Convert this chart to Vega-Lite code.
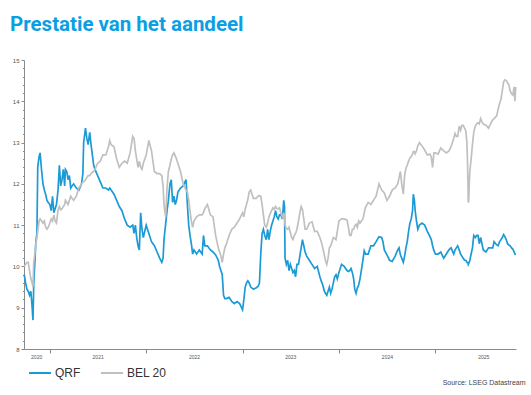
{
  "$schema": "https://vega.github.io/schema/vega-lite/v6.json",
  "width": 492,
  "height": 289,
  "autosize": {"type": "none"},
  "padding": {"left": 24, "top": 60, "right": 15, "bottom": 46},
  "background": "white",
  "title": {
    "text": "Prestatie van het aandeel",
    "anchor": "start",
    "frame": "group",
    "font": "Roboto",
    "fontSize": 20.5,
    "fontWeight": "bold",
    "color": "#0a9fe3",
    "dx": -14,
    "offset": 6,
    "baseline": "alphabetic"
  },
  "config": {
    "view": {"stroke": null},
    "axis": {"grid": false, "domainColor": "#8a8a8a", "tickColor": "#8a8a8a", "labelColor": "#555555", "labelFont": "Liberation Sans"}
  },
  "data": {
    "values": [
      {"date": "2020-09-26", "QRF": 9.8, "BEL 20": 10.0},
      {"date": "2020-10-01", "QRF": 9.6, "BEL 20": 10.05},
      {"date": "2020-10-06", "QRF": 9.45, "BEL 20": 10.1},
      {"date": "2020-10-11", "QRF": 9.4, "BEL 20": 10.1},
      {"date": "2020-10-16", "QRF": 9.3, "BEL 20": 9.9},
      {"date": "2020-10-21", "QRF": 9.4, "BEL 20": 9.7},
      {"date": "2020-10-26", "QRF": 9.0, "BEL 20": 9.6},
      {"date": "2020-10-29", "QRF": 8.7, "BEL 20": 9.5},
      {"date": "2020-11-01", "QRF": 9.6, "BEL 20": 10.1},
      {"date": "2020-11-06", "QRF": 10.2, "BEL 20": 10.35},
      {"date": "2020-11-09", "QRF": 10.6, "BEL 20": 10.55},
      {"date": "2020-11-13", "QRF": 10.8, "BEL 20": 10.7},
      {"date": "2020-11-16", "QRF": 12.4, "BEL 20": 10.85},
      {"date": "2020-11-21", "QRF": 12.65, "BEL 20": 11.1},
      {"date": "2020-11-25", "QRF": 12.75, "BEL 20": 11.15},
      {"date": "2020-12-01", "QRF": 12.3, "BEL 20": 11.1},
      {"date": "2020-12-06", "QRF": 12.0, "BEL 20": 11.05},
      {"date": "2020-12-11", "QRF": 11.85, "BEL 20": 11.1},
      {"date": "2020-12-16", "QRF": 11.75, "BEL 20": 10.95},
      {"date": "2020-12-21", "QRF": 11.6, "BEL 20": 10.9},
      {"date": "2020-12-26", "QRF": 11.55, "BEL 20": 10.95},
      {"date": "2021-01-01", "QRF": 11.5, "BEL 20": 11.05},
      {"date": "2021-01-06", "QRF": 11.35, "BEL 20": 11.15},
      {"date": "2021-01-11", "QRF": 11.7, "BEL 20": 11.1},
      {"date": "2021-01-16", "QRF": 11.3, "BEL 20": 11.25},
      {"date": "2021-01-21", "QRF": 11.4, "BEL 20": 11.1},
      {"date": "2021-01-26", "QRF": 11.5, "BEL 20": 11.05},
      {"date": "2021-02-01", "QRF": 11.85, "BEL 20": 11.37},
      {"date": "2021-02-06", "QRF": 12.45, "BEL 20": 11.45},
      {"date": "2021-02-11", "QRF": 11.95, "BEL 20": 11.37},
      {"date": "2021-02-16", "QRF": 12.1, "BEL 20": 11.4},
      {"date": "2021-02-21", "QRF": 12.35, "BEL 20": 11.45},
      {"date": "2021-02-26", "QRF": 11.95, "BEL 20": 11.5},
      {"date": "2021-03-01", "QRF": 12.35, "BEL 20": 11.6},
      {"date": "2021-03-06", "QRF": 12.3, "BEL 20": 11.55},
      {"date": "2021-03-11", "QRF": 12.1, "BEL 20": 11.5},
      {"date": "2021-03-16", "QRF": 12.2, "BEL 20": 11.6},
      {"date": "2021-03-21", "QRF": 11.9, "BEL 20": 11.7},
      {"date": "2021-03-26", "QRF": 11.95, "BEL 20": 11.65},
      {"date": "2021-04-01", "QRF": 12.0, "BEL 20": 11.6},
      {"date": "2021-04-11", "QRF": 11.9, "BEL 20": 11.7},
      {"date": "2021-04-21", "QRF": 11.85, "BEL 20": 11.9},
      {"date": "2021-05-01", "QRF": 12.0, "BEL 20": 12.0},
      {"date": "2021-05-06", "QRF": 12.25, "BEL 20": 12.05},
      {"date": "2021-05-09", "QRF": 13.0, "BEL 20": 12.05},
      {"date": "2021-05-16", "QRF": 13.35, "BEL 20": 12.1},
      {"date": "2021-05-21", "QRF": 13.1, "BEL 20": 12.15},
      {"date": "2021-05-26", "QRF": 12.95, "BEL 20": 12.2},
      {"date": "2021-06-01", "QRF": 13.25, "BEL 20": 12.2},
      {"date": "2021-06-06", "QRF": 12.95, "BEL 20": 12.25},
      {"date": "2021-06-11", "QRF": 12.7, "BEL 20": 12.28},
      {"date": "2021-06-16", "QRF": 12.45, "BEL 20": 12.3},
      {"date": "2021-06-21", "QRF": 12.35, "BEL 20": 12.35},
      {"date": "2021-07-01", "QRF": 12.2, "BEL 20": 12.5},
      {"date": "2021-07-11", "QRF": 12.05, "BEL 20": 12.55},
      {"date": "2021-07-21", "QRF": 11.9, "BEL 20": 12.7},
      {"date": "2021-08-01", "QRF": 11.9, "BEL 20": 12.7},
      {"date": "2021-08-11", "QRF": 11.85, "BEL 20": 12.9},
      {"date": "2021-08-16", "QRF": 11.9, "BEL 20": 13.05},
      {"date": "2021-08-21", "QRF": 11.85, "BEL 20": 12.95},
      {"date": "2021-09-01", "QRF": 11.75, "BEL 20": 12.9},
      {"date": "2021-09-11", "QRF": 11.6, "BEL 20": 12.6},
      {"date": "2021-09-21", "QRF": 11.45, "BEL 20": 12.4},
      {"date": "2021-10-01", "QRF": 11.35, "BEL 20": 12.5},
      {"date": "2021-10-11", "QRF": 11.15, "BEL 20": 12.55},
      {"date": "2021-10-21", "QRF": 11.0, "BEL 20": 12.5},
      {"date": "2021-11-01", "QRF": 10.95, "BEL 20": 12.75},
      {"date": "2021-11-11", "QRF": 11.0, "BEL 20": 13.15},
      {"date": "2021-11-16", "QRF": 10.8, "BEL 20": 13.1},
      {"date": "2021-11-21", "QRF": 11.0, "BEL 20": 12.8},
      {"date": "2021-11-26", "QRF": 10.7, "BEL 20": 12.6},
      {"date": "2021-12-01", "QRF": 10.5, "BEL 20": 12.4},
      {"date": "2021-12-06", "QRF": 10.4, "BEL 20": 12.55},
      {"date": "2021-12-11", "QRF": 11.3, "BEL 20": 12.4},
      {"date": "2021-12-16", "QRF": 10.9, "BEL 20": 12.35},
      {"date": "2021-12-21", "QRF": 10.7, "BEL 20": 12.5},
      {"date": "2022-01-01", "QRF": 11.0, "BEL 20": 12.7},
      {"date": "2022-01-11", "QRF": 10.8, "BEL 20": 13.05},
      {"date": "2022-01-21", "QRF": 10.6, "BEL 20": 12.8},
      {"date": "2022-02-01", "QRF": 10.5, "BEL 20": 12.3},
      {"date": "2022-02-11", "QRF": 10.35, "BEL 20": 12.25},
      {"date": "2022-02-21", "QRF": 10.2, "BEL 20": 12.25},
      {"date": "2022-03-01", "QRF": 10.1, "BEL 20": 12.2},
      {"date": "2022-03-06", "QRF": 10.2, "BEL 20": 11.95},
      {"date": "2022-03-09", "QRF": 10.6, "BEL 20": 11.55},
      {"date": "2022-03-11", "QRF": 10.75, "BEL 20": 11.4},
      {"date": "2022-03-16", "QRF": 11.05, "BEL 20": 11.2},
      {"date": "2022-03-21", "QRF": 11.35, "BEL 20": 11.9},
      {"date": "2022-03-26", "QRF": 11.6, "BEL 20": 12.3},
      {"date": "2022-04-01", "QRF": 12.0, "BEL 20": 12.45},
      {"date": "2022-04-06", "QRF": 12.1, "BEL 20": 12.6},
      {"date": "2022-04-11", "QRF": 11.55, "BEL 20": 12.7},
      {"date": "2022-04-16", "QRF": 11.7, "BEL 20": 12.75},
      {"date": "2022-04-21", "QRF": 11.5, "BEL 20": 12.68},
      {"date": "2022-04-26", "QRF": 11.6, "BEL 20": 12.6},
      {"date": "2022-05-01", "QRF": 11.8, "BEL 20": 12.5},
      {"date": "2022-05-11", "QRF": 11.9, "BEL 20": 12.3},
      {"date": "2022-05-21", "QRF": 11.95, "BEL 20": 12.0},
      {"date": "2022-06-01", "QRF": 12.1, "BEL 20": 11.85},
      {"date": "2022-06-06", "QRF": 11.5, "BEL 20": 11.8},
      {"date": "2022-06-11", "QRF": 11.0, "BEL 20": 11.6},
      {"date": "2022-06-16", "QRF": 10.75, "BEL 20": 11.35},
      {"date": "2022-06-21", "QRF": 10.55, "BEL 20": 11.1},
      {"date": "2022-06-26", "QRF": 10.3, "BEL 20": 10.95},
      {"date": "2022-07-01", "QRF": 10.4, "BEL 20": 11.1},
      {"date": "2022-07-11", "QRF": 10.3, "BEL 20": 11.2},
      {"date": "2022-07-21", "QRF": 10.4, "BEL 20": 11.25},
      {"date": "2022-08-01", "QRF": 10.3, "BEL 20": 11.25},
      {"date": "2022-08-06", "QRF": 10.75, "BEL 20": 11.3},
      {"date": "2022-08-11", "QRF": 10.5, "BEL 20": 11.4},
      {"date": "2022-08-21", "QRF": 10.5, "BEL 20": 11.5},
      {"date": "2022-09-01", "QRF": 10.4, "BEL 20": 11.25},
      {"date": "2022-09-11", "QRF": 10.35, "BEL 20": 11.2},
      {"date": "2022-09-21", "QRF": 10.28, "BEL 20": 10.75},
      {"date": "2022-10-01", "QRF": 10.15, "BEL 20": 10.45},
      {"date": "2022-10-06", "QRF": 10.0, "BEL 20": 10.35},
      {"date": "2022-10-11", "QRF": 9.9, "BEL 20": 10.25},
      {"date": "2022-10-16", "QRF": 9.8, "BEL 20": 10.1},
      {"date": "2022-10-21", "QRF": 9.3, "BEL 20": 10.3},
      {"date": "2022-10-26", "QRF": 9.22, "BEL 20": 10.45},
      {"date": "2022-11-01", "QRF": 9.22, "BEL 20": 10.55},
      {"date": "2022-11-11", "QRF": 9.25, "BEL 20": 10.75},
      {"date": "2022-11-21", "QRF": 9.15, "BEL 20": 10.9},
      {"date": "2022-12-01", "QRF": 9.1, "BEL 20": 10.95},
      {"date": "2022-12-11", "QRF": 9.15, "BEL 20": 11.05},
      {"date": "2022-12-21", "QRF": 9.1, "BEL 20": 11.15},
      {"date": "2023-01-01", "QRF": 8.95, "BEL 20": 11.3},
      {"date": "2023-01-06", "QRF": 9.2, "BEL 20": 11.2},
      {"date": "2023-01-11", "QRF": 9.5, "BEL 20": 11.4},
      {"date": "2023-01-16", "QRF": 9.6, "BEL 20": 11.5},
      {"date": "2023-01-21", "QRF": 9.65, "BEL 20": 11.62},
      {"date": "2023-01-26", "QRF": 9.6, "BEL 20": 11.8},
      {"date": "2023-02-01", "QRF": 9.5, "BEL 20": 11.85},
      {"date": "2023-02-11", "QRF": 9.45, "BEL 20": 11.65},
      {"date": "2023-02-21", "QRF": 9.48, "BEL 20": 11.65},
      {"date": "2023-03-01", "QRF": 9.52, "BEL 20": 11.7},
      {"date": "2023-03-06", "QRF": 9.6, "BEL 20": 11.72},
      {"date": "2023-03-11", "QRF": 10.3, "BEL 20": 11.7},
      {"date": "2023-03-16", "QRF": 10.8, "BEL 20": 11.5},
      {"date": "2023-03-21", "QRF": 10.9, "BEL 20": 11.25},
      {"date": "2023-03-26", "QRF": 10.75, "BEL 20": 11.0},
      {"date": "2023-04-01", "QRF": 10.65, "BEL 20": 10.95},
      {"date": "2023-04-06", "QRF": 10.9, "BEL 20": 11.05},
      {"date": "2023-04-11", "QRF": 10.65, "BEL 20": 11.2},
      {"date": "2023-04-16", "QRF": 10.85, "BEL 20": 11.28},
      {"date": "2023-04-21", "QRF": 11.0, "BEL 20": 11.35},
      {"date": "2023-04-26", "QRF": 11.1, "BEL 20": 11.42},
      {"date": "2023-05-01", "QRF": 11.2, "BEL 20": 11.38},
      {"date": "2023-05-06", "QRF": 11.35, "BEL 20": 11.45},
      {"date": "2023-05-11", "QRF": 11.2, "BEL 20": 11.4},
      {"date": "2023-05-16", "QRF": 11.15, "BEL 20": 11.4},
      {"date": "2023-05-21", "QRF": 11.25, "BEL 20": 11.42},
      {"date": "2023-05-26", "QRF": 11.25, "BEL 20": 11.3},
      {"date": "2023-06-01", "QRF": 11.15, "BEL 20": 11.2},
      {"date": "2023-06-06", "QRF": 11.6, "BEL 20": 11.3},
      {"date": "2023-06-09", "QRF": 11.45, "BEL 20": 11.2},
      {"date": "2023-06-11", "QRF": 10.2, "BEL 20": 11.0},
      {"date": "2023-06-16", "QRF": 10.05, "BEL 20": 10.92},
      {"date": "2023-06-21", "QRF": 10.15, "BEL 20": 10.9},
      {"date": "2023-06-26", "QRF": 9.9, "BEL 20": 10.95},
      {"date": "2023-07-01", "QRF": 10.05, "BEL 20": 10.82},
      {"date": "2023-07-06", "QRF": 9.95, "BEL 20": 10.7},
      {"date": "2023-07-11", "QRF": 9.85, "BEL 20": 10.65},
      {"date": "2023-07-16", "QRF": 9.9, "BEL 20": 10.75},
      {"date": "2023-07-21", "QRF": 9.75, "BEL 20": 10.8},
      {"date": "2023-07-26", "QRF": 10.05, "BEL 20": 10.9},
      {"date": "2023-08-01", "QRF": 10.05, "BEL 20": 11.1},
      {"date": "2023-08-06", "QRF": 10.25, "BEL 20": 11.3},
      {"date": "2023-08-11", "QRF": 10.45, "BEL 20": 11.45},
      {"date": "2023-08-16", "QRF": 10.65, "BEL 20": 11.38},
      {"date": "2023-08-21", "QRF": 10.5, "BEL 20": 11.15},
      {"date": "2023-08-26", "QRF": 10.35, "BEL 20": 10.9},
      {"date": "2023-09-01", "QRF": 10.25, "BEL 20": 10.9},
      {"date": "2023-09-11", "QRF": 10.15, "BEL 20": 11.05},
      {"date": "2023-09-21", "QRF": 10.05, "BEL 20": 11.08},
      {"date": "2023-10-01", "QRF": 9.95, "BEL 20": 10.85},
      {"date": "2023-10-11", "QRF": 10.0, "BEL 20": 10.85},
      {"date": "2023-10-21", "QRF": 9.75, "BEL 20": 10.7},
      {"date": "2023-10-26", "QRF": 9.65, "BEL 20": 10.6},
      {"date": "2023-11-01", "QRF": 9.55, "BEL 20": 10.45},
      {"date": "2023-11-06", "QRF": 9.42, "BEL 20": 10.3},
      {"date": "2023-11-11", "QRF": 9.35, "BEL 20": 10.15},
      {"date": "2023-11-16", "QRF": 9.3, "BEL 20": 10.05},
      {"date": "2023-11-21", "QRF": 9.4, "BEL 20": 10.2},
      {"date": "2023-11-26", "QRF": 9.5, "BEL 20": 10.45},
      {"date": "2023-12-01", "QRF": 9.35, "BEL 20": 10.5},
      {"date": "2023-12-06", "QRF": 9.45, "BEL 20": 10.6},
      {"date": "2023-12-11", "QRF": 9.6, "BEL 20": 10.7},
      {"date": "2023-12-16", "QRF": 9.75, "BEL 20": 10.68},
      {"date": "2023-12-21", "QRF": 9.8, "BEL 20": 10.65},
      {"date": "2023-12-26", "QRF": 9.7, "BEL 20": 10.85},
      {"date": "2024-01-01", "QRF": 9.85, "BEL 20": 11.1},
      {"date": "2024-01-11", "QRF": 10.05, "BEL 20": 11.15},
      {"date": "2024-01-21", "QRF": 10.0, "BEL 20": 11.15},
      {"date": "2024-02-01", "QRF": 9.9, "BEL 20": 11.12},
      {"date": "2024-02-06", "QRF": 9.88, "BEL 20": 10.95},
      {"date": "2024-02-11", "QRF": 9.9, "BEL 20": 10.75},
      {"date": "2024-02-16", "QRF": 9.95, "BEL 20": 10.75},
      {"date": "2024-02-21", "QRF": 9.85, "BEL 20": 10.9},
      {"date": "2024-02-26", "QRF": 9.7, "BEL 20": 10.9},
      {"date": "2024-03-01", "QRF": 9.45, "BEL 20": 10.98},
      {"date": "2024-03-06", "QRF": 9.35, "BEL 20": 11.02},
      {"date": "2024-03-11", "QRF": 9.48, "BEL 20": 10.95},
      {"date": "2024-03-16", "QRF": 9.55, "BEL 20": 11.1},
      {"date": "2024-03-21", "QRF": 9.7, "BEL 20": 11.05},
      {"date": "2024-03-26", "QRF": 9.9, "BEL 20": 11.1},
      {"date": "2024-04-01", "QRF": 10.15, "BEL 20": 11.15},
      {"date": "2024-04-06", "QRF": 10.38, "BEL 20": 11.3},
      {"date": "2024-04-11", "QRF": 10.3, "BEL 20": 11.43},
      {"date": "2024-04-21", "QRF": 10.3, "BEL 20": 11.55},
      {"date": "2024-05-01", "QRF": 10.5, "BEL 20": 11.5},
      {"date": "2024-05-11", "QRF": 10.5, "BEL 20": 11.6},
      {"date": "2024-05-21", "QRF": 10.6, "BEL 20": 11.7},
      {"date": "2024-06-01", "QRF": 10.72, "BEL 20": 12.0},
      {"date": "2024-06-11", "QRF": 10.7, "BEL 20": 11.85},
      {"date": "2024-06-16", "QRF": 10.6, "BEL 20": 11.82},
      {"date": "2024-06-21", "QRF": 10.4, "BEL 20": 11.78},
      {"date": "2024-07-01", "QRF": 10.28, "BEL 20": 11.6},
      {"date": "2024-07-11", "QRF": 10.15, "BEL 20": 11.7},
      {"date": "2024-07-21", "QRF": 10.12, "BEL 20": 11.85},
      {"date": "2024-08-01", "QRF": 10.25, "BEL 20": 11.9},
      {"date": "2024-08-11", "QRF": 10.4, "BEL 20": 12.0},
      {"date": "2024-08-16", "QRF": 10.45, "BEL 20": 12.15},
      {"date": "2024-08-21", "QRF": 10.28, "BEL 20": 12.3},
      {"date": "2024-08-26", "QRF": 10.2, "BEL 20": 12.0},
      {"date": "2024-09-01", "QRF": 10.1, "BEL 20": 11.75},
      {"date": "2024-09-06", "QRF": 10.25, "BEL 20": 12.2},
      {"date": "2024-09-11", "QRF": 10.45, "BEL 20": 12.38},
      {"date": "2024-09-16", "QRF": 10.6, "BEL 20": 12.45},
      {"date": "2024-09-21", "QRF": 10.85, "BEL 20": 12.55},
      {"date": "2024-09-26", "QRF": 11.05, "BEL 20": 12.62},
      {"date": "2024-10-01", "QRF": 11.15, "BEL 20": 12.66},
      {"date": "2024-10-06", "QRF": 11.35, "BEL 20": 12.72},
      {"date": "2024-10-09", "QRF": 11.75, "BEL 20": 12.78},
      {"date": "2024-10-13", "QRF": 11.6, "BEL 20": 12.78},
      {"date": "2024-10-16", "QRF": 11.35, "BEL 20": 12.73},
      {"date": "2024-10-21", "QRF": 11.1, "BEL 20": 12.8},
      {"date": "2024-10-26", "QRF": 10.9, "BEL 20": 12.92},
      {"date": "2024-11-01", "QRF": 11.0, "BEL 20": 13.0},
      {"date": "2024-11-11", "QRF": 11.05, "BEL 20": 12.92},
      {"date": "2024-11-21", "QRF": 11.0, "BEL 20": 12.82},
      {"date": "2024-12-01", "QRF": 10.85, "BEL 20": 12.7},
      {"date": "2024-12-11", "QRF": 10.72, "BEL 20": 12.72},
      {"date": "2024-12-16", "QRF": 10.65, "BEL 20": 12.65},
      {"date": "2024-12-21", "QRF": 10.5, "BEL 20": 12.4},
      {"date": "2024-12-26", "QRF": 10.38, "BEL 20": 12.75},
      {"date": "2025-01-01", "QRF": 10.3, "BEL 20": 12.75},
      {"date": "2025-01-11", "QRF": 10.3, "BEL 20": 12.72},
      {"date": "2025-01-21", "QRF": 10.35, "BEL 20": 12.87},
      {"date": "2025-02-01", "QRF": 10.2, "BEL 20": 12.8},
      {"date": "2025-02-11", "QRF": 10.3, "BEL 20": 12.75},
      {"date": "2025-02-21", "QRF": 10.4, "BEL 20": 12.8},
      {"date": "2025-03-01", "QRF": 10.45, "BEL 20": 12.9},
      {"date": "2025-03-11", "QRF": 10.3, "BEL 20": 13.1},
      {"date": "2025-03-16", "QRF": 10.4, "BEL 20": 13.22},
      {"date": "2025-03-21", "QRF": 10.45, "BEL 20": 13.15},
      {"date": "2025-03-26", "QRF": 10.5, "BEL 20": 13.15},
      {"date": "2025-04-01", "QRF": 10.4, "BEL 20": 13.4},
      {"date": "2025-04-06", "QRF": 10.3, "BEL 20": 13.3},
      {"date": "2025-04-11", "QRF": 10.25, "BEL 20": 13.42},
      {"date": "2025-04-16", "QRF": 10.2, "BEL 20": 13.42},
      {"date": "2025-04-21", "QRF": 10.15, "BEL 20": 13.35},
      {"date": "2025-04-26", "QRF": 10.15, "BEL 20": 13.28},
      {"date": "2025-04-30", "QRF": 10.1, "BEL 20": 13.0},
      {"date": "2025-05-02", "QRF": 10.1, "BEL 20": 12.6},
      {"date": "2025-05-04", "QRF": 10.08, "BEL 20": 12.0},
      {"date": "2025-05-05", "QRF": 10.05, "BEL 20": 11.55},
      {"date": "2025-05-07", "QRF": 10.08, "BEL 20": 11.6},
      {"date": "2025-05-09", "QRF": 10.1, "BEL 20": 12.0},
      {"date": "2025-05-11", "QRF": 10.15, "BEL 20": 12.3},
      {"date": "2025-05-16", "QRF": 10.3, "BEL 20": 12.6},
      {"date": "2025-05-21", "QRF": 10.45, "BEL 20": 12.95},
      {"date": "2025-05-26", "QRF": 10.75, "BEL 20": 13.25},
      {"date": "2025-06-01", "QRF": 10.7, "BEL 20": 13.4},
      {"date": "2025-06-06", "QRF": 10.75, "BEL 20": 13.45},
      {"date": "2025-06-11", "QRF": 10.75, "BEL 20": 13.48},
      {"date": "2025-06-16", "QRF": 10.55, "BEL 20": 13.45},
      {"date": "2025-06-21", "QRF": 10.7, "BEL 20": 13.58},
      {"date": "2025-06-26", "QRF": 10.55, "BEL 20": 13.5},
      {"date": "2025-07-01", "QRF": 10.4, "BEL 20": 13.45},
      {"date": "2025-07-11", "QRF": 10.35, "BEL 20": 13.42},
      {"date": "2025-07-21", "QRF": 10.45, "BEL 20": 13.35},
      {"date": "2025-08-01", "QRF": 10.45, "BEL 20": 13.5},
      {"date": "2025-08-06", "QRF": 10.45, "BEL 20": 13.55},
      {"date": "2025-08-11", "QRF": 10.6, "BEL 20": 13.58},
      {"date": "2025-08-21", "QRF": 10.52, "BEL 20": 13.65},
      {"date": "2025-08-26", "QRF": 10.5, "BEL 20": 13.8},
      {"date": "2025-09-01", "QRF": 10.6, "BEL 20": 13.95},
      {"date": "2025-09-06", "QRF": 10.65, "BEL 20": 14.05},
      {"date": "2025-09-11", "QRF": 10.7, "BEL 20": 14.25},
      {"date": "2025-09-16", "QRF": 10.77, "BEL 20": 14.47},
      {"date": "2025-09-21", "QRF": 10.72, "BEL 20": 14.52},
      {"date": "2025-09-26", "QRF": 10.65, "BEL 20": 14.5},
      {"date": "2025-10-01", "QRF": 10.55, "BEL 20": 14.45},
      {"date": "2025-10-06", "QRF": 10.52, "BEL 20": 14.4},
      {"date": "2025-10-11", "QRF": 10.5, "BEL 20": 14.25},
      {"date": "2025-10-16", "QRF": 10.45, "BEL 20": 14.18},
      {"date": "2025-10-21", "QRF": 10.42, "BEL 20": 14.15},
      {"date": "2025-10-26", "QRF": 10.35, "BEL 20": 14.35},
      {"date": "2025-10-29", "QRF": 10.3, "BEL 20": 14.0},
      {"date": "2025-11-01", "QRF": 10.28, "BEL 20": 14.35}
    ]
  },
  "transform": [{"fold": ["QRF", "BEL 20"], "as": ["series", "value"]}],
  "layer": [
    {
      "mark": {"type": "line", "strokeWidth": 1.7, "interpolate": "linear"},
      "encoding": {
        "x": {
          "field": "date", "type": "temporal",
          "scale": {"domain": [{"year": 2020, "month": 9, "date": 25, "utc": true}, {"year": 2025, "month": 11, "date": 2, "utc": true}]},
          "axis": {
            "orient": "bottom",
            "values": [{"year": 2021, "month": 1, "date": 1, "utc": true}, {"year": 2022, "month": 1, "date": 1, "utc": true}, {"year": 2023, "month": 1, "date": 1, "utc": true}, {"year": 2024, "month": 1, "date": 1, "utc": true}, {"year": 2025, "month": 1, "date": 1, "utc": true}],
            "labels": false, "tickSize": 4, "tickWidth": 1,
            "title": "Source: LSEG Datastream",
            "titleFont": "Liberation Sans", "titleFontSize": 7, "titleFontWeight": "normal", "titleColor": "#444444",
            "titleAlign": "right", "titleAnchor": null, "titleBaseline": "alphabetic",
            "titleX": 501, "titleY": 35
          }
        },
        "y": {
          "field": "value", "type": "quantitative",
          "scale": {"domain": [8, 15], "nice": false, "zero": false},
          "axis": {"orient": "left", "values": [8, 9, 10, 11, 12, 13, 14, 15], "tickSize": 3, "labelFontSize": 6, "labelPadding": 2, "title": null}
        },
        "color": {
          "field": "series", "type": "nominal",
          "scale": {"domain": ["QRF", "BEL 20"], "range": ["#1b9ad6", "#c0c0c0"]},
          "legend": {
            "title": null, "orient": "none", "legendX": 4, "legendY": 301, "direction": "horizontal",
            "symbolType": "stroke", "symbolSize": 484, "symbolStrokeWidth": 2,
            "labelFont": "Liberation Sans", "labelFontSize": 12, "labelColor": "#333333",
            "labelOffset": 3, "columnPadding": 16, "padding": 0
          }
        }
      }
    },
    {
      "mark": {"type": "line", "opacity": 0},
      "encoding": {
        "x": {
          "field": "date", "type": "temporal",
          "axis": {
            "orient": "bottom",
            "values": [{"year": 2020, "month": 11, "date": 10, "utc": true}, {"year": 2021, "month": 7, "date": 1, "utc": true}, {"year": 2022, "month": 7, "date": 1, "utc": true}, {"year": 2023, "month": 7, "date": 1, "utc": true}, {"year": 2024, "month": 7, "date": 1, "utc": true}, {"year": 2025, "month": 7, "date": 1, "utc": true}],
            "format": "%Y", "ticks": false, "domain": false, "labelFontSize": 5, "labelPadding": 5, "title": null
          }
        },
        "y": {
          "field": "value", "type": "quantitative",
          "axis": {"orient": "left", "values": [8.2, 8.4, 8.6, 8.8, 9.2, 9.4, 9.6, 9.8, 10.2, 10.4, 10.6, 10.8, 11.2, 11.4, 11.6, 11.8, 12.2, 12.4, 12.6, 12.8, 13.2, 13.4, 13.6, 13.8, 14.2, 14.4, 14.6, 14.8], "labels": false, "tickSize": 1.5, "domain": false, "title": null}
        }
      }
    }
  ],
  "resolve": {"axis": {"x": "independent", "y": "independent"}}
}
